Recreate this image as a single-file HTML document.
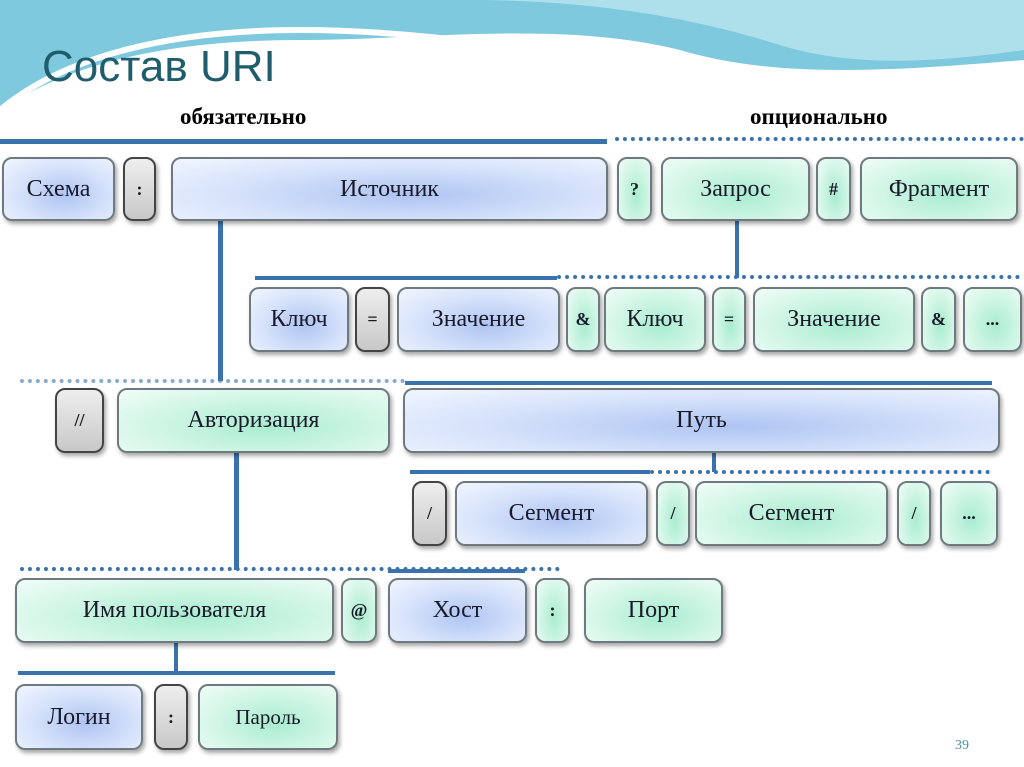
<!DOCTYPE html>
<html><head><meta charset="utf-8"><style>
body{margin:0;width:1024px;height:767px;position:relative;overflow:hidden;background:#fff;font-family:"Liberation Serif",serif}
.b{position:absolute;box-sizing:border-box;border:2px solid #6f7a80;border-radius:10px;display:flex;align-items:center;justify-content:center;font-size:24px;color:#1a1a2a;box-shadow:2px 3px 4px rgba(0,0,0,.35)}
.bl{background:radial-gradient(ellipse at 55% 60%,#aec4f2 0%,#d7e3fb 55%,#f2f6ff 100%)}
.gr{background:radial-gradient(ellipse at 55% 60%,#a9ecd0 0%,#d2f6e6 55%,#f1fdf8 100%)}
.gy{background:linear-gradient(#eee,#c8c8c8);border-color:#444}
.s{font-size:18px;font-weight:bold}
.ln{position:absolute;background:#3a72ad}
.dt{position:absolute;height:0;border-top:4px dotted #3a72ad}
</style></head><body>
<svg width="1024" height="110" style="position:absolute;left:0;top:0">
<path d="M0 0H1024V60C900 70 780 80 680 50C560 20 420 40 300 40C150 40 60 70 0 110Z" fill="#7ec9dd"/>
<path d="M470 0H1024V50C950 60 860 70 780 45C700 20 600 0 470 0Z" fill="#aee0ec"/>
<path d="M0 110C60 60 160 30 300 30C450 30 560 60 690 62" stroke="#fff" stroke-width="6" fill="none"/>
</svg>
<div style="position:absolute;left:42px;top:42px;font-family:'Liberation Sans',sans-serif;font-size:44px;color:#1f5d6c">Состав URI</div>
<div style="position:absolute;left:180px;top:104px;font-size:23px;font-weight:bold">обязательно</div>
<div style="position:absolute;left:750px;top:104px;font-size:23px;font-weight:bold">опционально</div>

<div class="ln" style="left:0;top:139px;width:607px;height:5px"></div>
<div class="dt" style="left:615px;top:137px;width:409px"></div>
<div class="ln" style="left:218px;top:221px;width:5px;height:160px"></div>
<div class="ln" style="left:735px;top:221px;width:4px;height:57px"></div>
<div class="ln" style="left:255px;top:276px;width:302px;height:4px"></div>
<div class="dt" style="left:557px;top:275px;width:463px"></div>
<div class="dt" style="left:20px;top:379px;width:385px;opacity:.6"></div>
<div class="ln" style="left:405px;top:381px;width:587px;height:4px"></div>
<div class="ln" style="left:234px;top:453px;width:5px;height:117px"></div>
<div class="ln" style="left:712px;top:453px;width:4px;height:19px"></div>
<div class="ln" style="left:410px;top:470px;width:240px;height:4px"></div>
<div class="dt" style="left:650px;top:470px;width:340px"></div>
<div class="dt" style="left:20px;top:567px;width:540px"></div>
<div class="ln" style="left:388px;top:569px;width:137px;height:4px"></div>
<div class="ln" style="left:174px;top:643px;width:4px;height:30px"></div>
<div class="ln" style="left:18px;top:671px;width:317px;height:4px"></div>

<div class="b bl" style="left:2px;top:157px;width:113px;height:64px">Схема</div>
<div class="b gy s" style="left:123px;top:157px;width:33px;height:64px">:</div>
<div class="b bl" style="left:171px;top:157px;width:437px;height:64px">Источник</div>
<div class="b gr s" style="left:617px;top:157px;width:35px;height:64px">?</div>
<div class="b gr" style="left:661px;top:157px;width:149px;height:64px">Запрос</div>
<div class="b gr s" style="left:816px;top:157px;width:35px;height:64px">#</div>
<div class="b gr" style="left:860px;top:157px;width:158px;height:64px">Фрагмент</div>

<div class="b bl" style="left:249px;top:287px;width:100px;height:65px">Ключ</div>
<div class="b gy s" style="left:355px;top:287px;width:35px;height:65px">=</div>
<div class="b bl" style="left:397px;top:287px;width:163px;height:65px">Значение</div>
<div class="b gr s" style="left:566px;top:287px;width:34px;height:65px">&amp;</div>
<div class="b gr" style="left:604px;top:287px;width:102px;height:65px">Ключ</div>
<div class="b gr s" style="left:712px;top:287px;width:34px;height:65px">=</div>
<div class="b gr" style="left:753px;top:287px;width:162px;height:65px">Значение</div>
<div class="b gr s" style="left:921px;top:287px;width:35px;height:65px">&amp;</div>
<div class="b gr s" style="left:963px;top:287px;width:59px;height:65px">...</div>

<div class="b gy s" style="left:55px;top:388px;width:49px;height:65px">//</div>
<div class="b gr" style="left:117px;top:388px;width:273px;height:65px">Авторизация</div>
<div class="b bl" style="left:403px;top:388px;width:597px;height:65px">Путь</div>

<div class="b gy s" style="left:412px;top:481px;width:35px;height:65px">/</div>
<div class="b bl" style="left:455px;top:481px;width:193px;height:65px">Сегмент</div>
<div class="b gr s" style="left:656px;top:481px;width:34px;height:65px">/</div>
<div class="b gr" style="left:695px;top:481px;width:193px;height:65px">Сегмент</div>
<div class="b gr s" style="left:897px;top:481px;width:34px;height:65px">/</div>
<div class="b gr s" style="left:940px;top:481px;width:58px;height:65px">...</div>

<div class="b gr" style="left:15px;top:578px;width:319px;height:65px">Имя пользователя</div>
<div class="b gr s" style="left:341px;top:578px;width:36px;height:65px">@</div>
<div class="b bl" style="left:388px;top:578px;width:139px;height:65px">Хост</div>
<div class="b gr s" style="left:535px;top:578px;width:35px;height:65px">:</div>
<div class="b gr" style="left:584px;top:578px;width:139px;height:65px">Порт</div>

<div class="b bl" style="left:15px;top:684px;width:128px;height:66px">Логин</div>
<div class="b gy s" style="left:154px;top:684px;width:34px;height:66px">:</div>
<div class="b gr" style="left:198px;top:684px;width:140px;height:66px;font-size:21px">Пароль</div>
<div style="position:absolute;left:955px;top:738px;font-size:14px;color:#4a8fa8">39</div>
</body></html>
